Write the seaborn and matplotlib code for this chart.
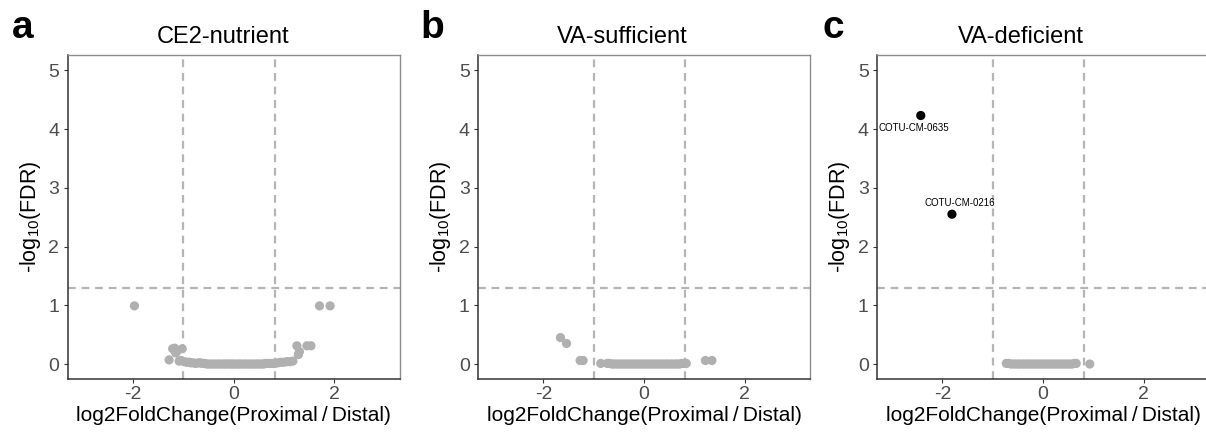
import matplotlib
matplotlib.use("Agg")
import matplotlib.pyplot as plt
import seaborn as sns
import pandas as pd

sns.set_style("white")
plt.rcParams["font.family"] = ["Liberation Sans", "DejaVu Sans"]
plt.rcParams["mathtext.fontset"] = "custom"
plt.rcParams["mathtext.rm"] = "Liberation Sans"
plt.rcParams["mathtext.it"] = "Liberation Sans:italic"
plt.rcParams["mathtext.bf"] = "Liberation Sans:bold"
plt.rcParams["axes.unicode_minus"] = False
plt.rcParams["text.color"] = "black"
plt.rcParams["axes.labelcolor"] = "black"

# ---- data: log2 fold change (Proximal/Distal) and -log10(FDR) per OTU ----
panel_titles = ["CE2-nutrient", "VA-sufficient", "VA-deficient"]
panel_tags = ["a", "b", "c"]

ce2_lfc = [-1.97, -1.28, -1.21, -1.17, -1.15, -1.13, -1.02, -1.08, -1.04, -0.98,
           -0.93, -0.88, -0.85, -0.80, -0.75, -0.70, -0.66,
           -0.62, -0.57, -0.53, -0.49, -0.44, -0.40, -0.36, -0.31, -0.27, -0.22,
           -0.18, -0.14, -0.09, -0.05, -0.01, 0.03, 0.08, 0.12, 0.16, 0.21, 0.25,
           0.30, 0.34, 0.38, 0.43, 0.47, 0.51, 0.56, 0.60, 0.64, 0.69, 0.73, 0.78,
           0.82, 0.88, 0.94, 1.00, 1.06, 1.12, 1.18,
           1.26, 1.31, 1.29, 1.46, 1.54, 1.71, 1.92]
ce2_nlfdr = [0.99, 0.07, 0.26, 0.27, 0.19, 0.21, 0.26, 0.05, 0.06, 0.04,
             0.03, 0.03, 0.02, 0.02, 0.01, 0.02, 0.02,
             0.01, 0.01, 0.00, 0.00, 0.00, 0.00, 0.00, 0.00, 0.00, 0.00,
             0.00, 0.00, 0.00, 0.00, 0.00, 0.00, 0.00, 0.00, 0.00, 0.00, 0.00,
             0.00, 0.00, 0.00, 0.00, 0.00, 0.00, 0.00, 0.00, 0.01, 0.01, 0.01, 0.01,
             0.01, 0.02, 0.03, 0.03, 0.04, 0.04, 0.05,
             0.31, 0.21, 0.16, 0.31, 0.31, 0.99, 0.99]

vas_lfc = [-1.66, -1.54, -1.27, -1.21, -0.86,
           -0.73, -0.69, -0.64, -0.60, -0.55, -0.51, -0.46, -0.42, -0.37, -0.33,
           -0.28, -0.24, -0.19, -0.15, -0.10, -0.06, -0.01, 0.03, 0.08, 0.12,
           0.17, 0.21, 0.26, 0.30, 0.35, 0.39, 0.44, 0.48, 0.53, 0.57, 0.62,
           0.66, 0.71, 0.75, 0.80, 0.84,
           1.22, 1.35]
vas_nlfdr = [0.45, 0.35, 0.06, 0.06, 0.01,
             0.01, 0.01, 0.00, 0.00, 0.00, 0.00, 0.00, 0.00, 0.00, 0.00,
             0.00, 0.00, 0.00, 0.00, 0.00, 0.00, 0.00, 0.00, 0.00, 0.00,
             0.00, 0.00, 0.00, 0.00, 0.00, 0.00, 0.00, 0.00, 0.00, 0.00, 0.00,
             0.00, 0.00, 0.01, 0.01, 0.01,
             0.06, 0.06]

vad_lfc = [-2.43, -1.81,
           -0.73, -0.68, -0.64, -0.59, -0.55, -0.50, -0.46, -0.41, -0.37, -0.32,
           -0.28, -0.23, -0.19, -0.14, -0.10, -0.05, -0.01, 0.04, 0.08, 0.13,
           0.17, 0.22, 0.26, 0.31, 0.35, 0.40, 0.44, 0.49, 0.53, 0.58, 0.62, 0.66,
           0.93]
vad_nlfdr = [4.23, 2.55,
             0.01, 0.01, 0.00, 0.00, 0.00, 0.00, 0.00, 0.00, 0.00, 0.00,
             0.00, 0.00, 0.00, 0.00, 0.00, 0.00, 0.00, 0.00, 0.00, 0.00,
             0.00, 0.00, 0.00, 0.00, 0.00, 0.00, 0.00, 0.00, 0.00, 0.00, 0.01, 0.01,
             0.00]
vad_labels = ["COTU-CM-0635", "COTU-CM-0216"] + [""] * 33

# thresholds
fc_low, fc_high = -1.0, 0.82
fdr_cut = 1.301  # -log10(0.05)

panels = [
    pd.DataFrame({"lfc": ce2_lfc, "nlfdr": ce2_nlfdr, "label": [""] * len(ce2_lfc)}),
    pd.DataFrame({"lfc": vas_lfc, "nlfdr": vas_nlfdr, "label": [""] * len(vas_lfc)}),
    pd.DataFrame({"lfc": vad_lfc, "nlfdr": vad_nlfdr, "label": vad_labels}),
]
for df in panels:
    df["sig"] = (df["nlfdr"] > fdr_cut) & ((df["lfc"] < fc_low) | (df["lfc"] > fc_high))

W, H = 1206, 434
fig = plt.figure(figsize=(W / 100, H / 100), dpi=100)

ax_left_px = [67.5, 478, 877]
ax_w_px = 332
ax_top_px, ax_bot_px = 55, 379
title_x_px = [223, 622, 1021]
tag_x_px = [12, 420, 823]

grey_pt = "#B0B0B0"
dash_col = "#B5B5B5"
dash = (0, (3.5, 2.6))

for i, df in enumerate(panels):
    ax = fig.add_axes([ax_left_px[i] / W, (H - ax_bot_px) / H,
                       ax_w_px / W, (ax_bot_px - ax_top_px) / H])
    ax.axvline(fc_low, color=dash_col, lw=1.6, ls=dash, zorder=1)
    ax.axvline(fc_high, color=dash_col, lw=1.6, ls=dash, zorder=1)
    ax.axhline(fdr_cut, color=dash_col, lw=1.6, ls=dash, zorder=1)
    sns.scatterplot(data=df, x="lfc", y="nlfdr", hue="sig",
                    palette={False: grey_pt, True: "black"},
                    s=44, edgecolor="none", linewidth=0, legend=False, ax=ax, zorder=3)
    for _, r in df[df["label"] != ""].iterrows():
        dy = -9 if r["nlfdr"] > 4 else 8
        dx = -5 if r["nlfdr"] > 4 else 6
        ax.annotate(r["label"], (r["lfc"], r["nlfdr"]), xytext=(dx, dy),
                    textcoords="offset points", ha="center", va="center",
                    fontsize=7, color="black")
    ax.set_xlim(-3.3, 3.3)
    ax.set_ylim(-0.255, 5.26)
    ax.set_xticks([-2, 0, 2])
    ax.set_yticks([0, 1, 2, 3, 4, 5])
    ax.tick_params(axis="both", labelsize=14, labelcolor="#4D4D4D", color="#333333",
                   length=3, width=0.8, direction="out")
    ax.tick_params(axis="x", pad=2)
    ax.tick_params(axis="y", pad=3)
    ax.tick_params(bottom=True, left=True)
    for side in ["top", "right"]:
        ax.spines[side].set_color("#8C8C8C")
        ax.spines[side].set_linewidth(1.0)
    for side in ["left", "bottom"]:
        ax.spines[side].set_color("#333333")
        ax.spines[side].set_linewidth(1.1)
    ax.set_xlabel("log2FoldChange(Proximal\u2009/\u2009Distal)", fontsize=15, labelpad=2,
                  color="black")
    ax.set_ylabel(r"-log$_{10}$(FDR)", fontsize=15.5, labelpad=4, color="black")
    fig.text(title_x_px[i] / W, (H - 43) / H, panel_titles[i], fontsize=17,
             ha="center", va="baseline", color="black")
    fig.text(tag_x_px[i] / W, (H - 38) / H, panel_tags[i], fontsize=28,
             fontweight="bold", ha="left", va="baseline", color="black")

fig.savefig("out.png", dpi=100, facecolor="white")
